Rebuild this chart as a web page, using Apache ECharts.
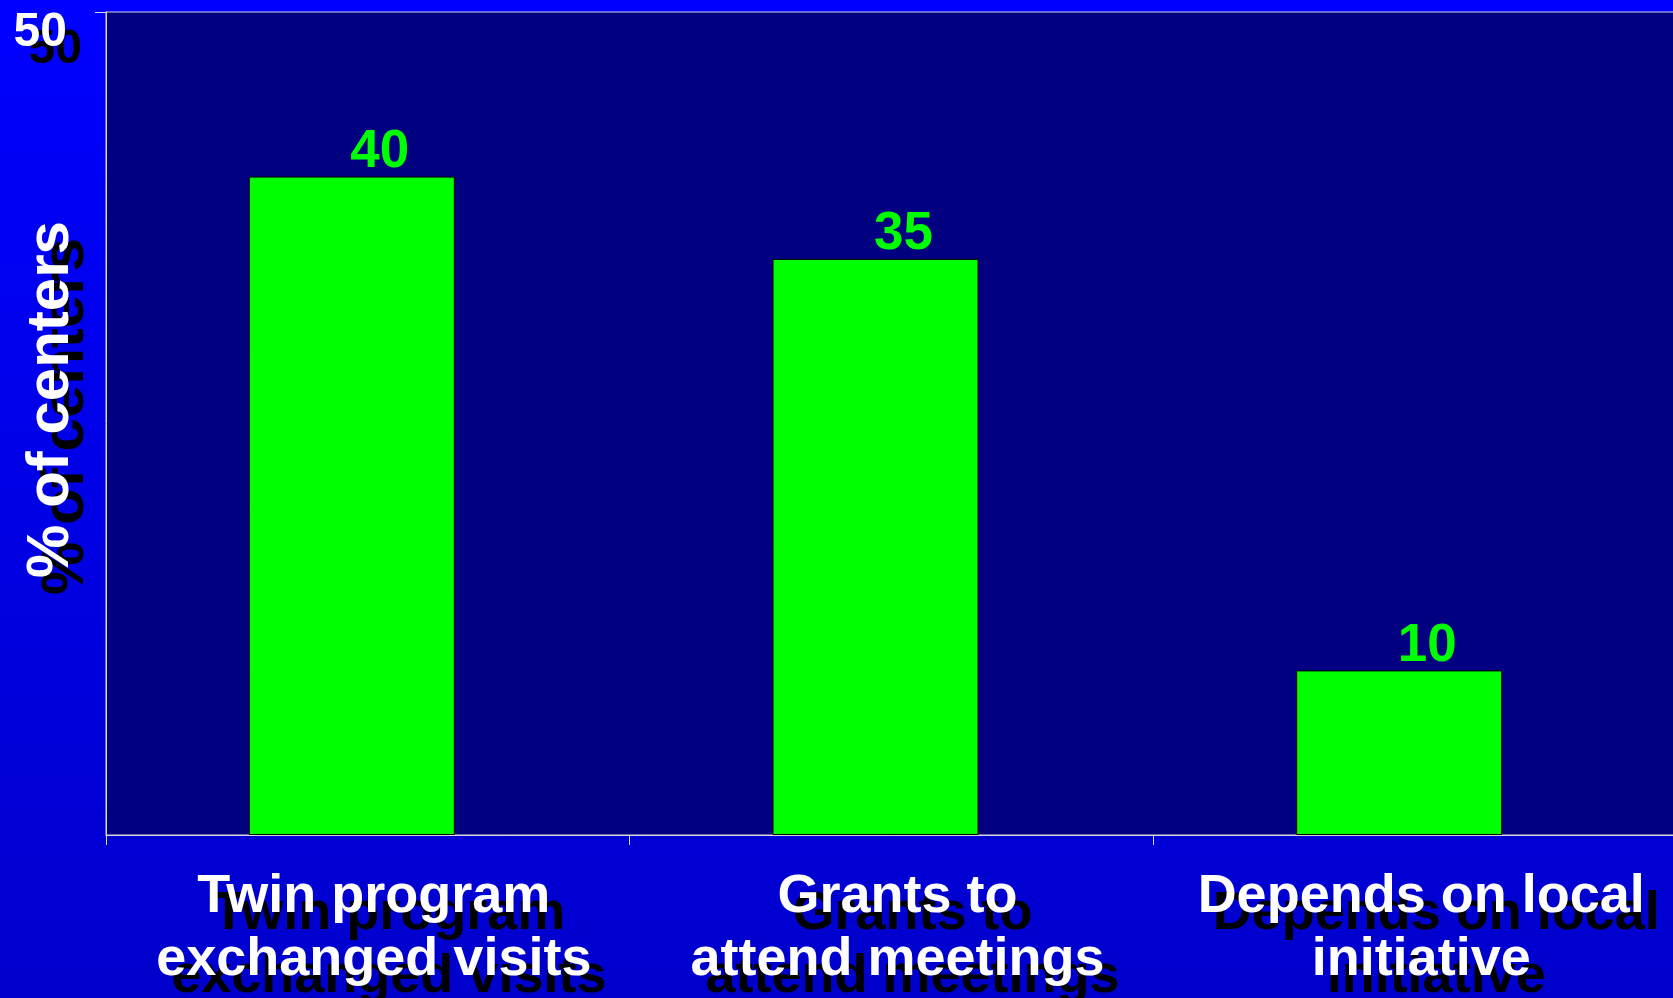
<!DOCTYPE html>
<html>
<head>
<meta charset="utf-8">
<script src="https://cdn.jsdelivr.net/npm/echarts@6/dist/echarts.min.js"></script>
<style>
html,body{margin:0;padding:0;width:1673px;height:998px;overflow:hidden;}
#c{width:1673px;height:998px;background:linear-gradient(to bottom,#0000ff 0%,#0000cc 100%);}
</style>
</head>
<body>
<div id="c"></div>
<script>
const categories = ['Twin program\nexchanged visits', 'Grants to\nattend meetings', 'Depends on local\ninitiative'];
const values = [40, 35, 10];
const yTickValues = [50];
const yTitle = '% of centers';

const FONT = "'Liberation Sans', Arial, Helvetica, sans-serif";
const shadow = {textShadowColor: '#000', textShadowOffsetX: 15, textShadowOffsetY: 17, textShadowBlur: 0.01};

const chart = echarts.init(document.getElementById('c'), null, {renderer: 'canvas'});
chart.setOption({
  backgroundColor: 'transparent',
  animation: false,
  grid: {left: 106, top: 12, right: -4, bottom: 163, outerBoundsMode: 'none', containLabel: false, show: true, backgroundColor: '#000080', borderColor: '#d8d8d8', borderWidth: 1},
  xAxis: {
    type: 'category',
    data: categories,
    axisLine: {show: true, lineStyle: {color: '#d8d8d8', width: 1}},
    axisTick: {show: true, length: 10, lineStyle: {color: '#d8d8d8', width: 1}},
    axisLabel: Object.assign({color: '#fff', fontFamily: FONT, fontWeight: 'bold', fontSize: 54, lineHeight: 63, margin: 31, interval: 0, padding: [0, 0, 0, 12]}, shadow)
  },
  yAxis: {
    type: 'value',
    min: 0, max: 50, interval: 50,
    name: yTitle,
    nameLocation: 'middle',
    nameRotate: 90,
    nameGap: 25,
    nameMoveOverlap: false,
    nameTextStyle: Object.assign({color: '#fff', fontFamily: FONT, fontWeight: 'bold', fontSize: 60, padding: [0, 0, 0, 48]}, shadow),
    splitLine: {show: false},
    axisLine: {show: true, lineStyle: {color: '#d8d8d8', width: 1}},
    axisTick: {show: true, length: 11, customValues: yTickValues, lineStyle: {color: '#d8d8d8', width: 1}},
    axisLabel: Object.assign({color: '#fff', fontFamily: FONT, fontWeight: 'bold', fontSize: 48, lineHeight: 42, verticalAlign: 'top', margin: 39, customValues: yTickValues}, shadow)
  },
  series: [
    {
      type: 'bar',
      data: values,
      barWidth: 206,
      barGap: '0%',
      itemStyle: {color: '#00ff00', borderColor: '#000', borderWidth: 1},
      label: {show: true, position: 'top', distance: 0, offset: [28, 2], color: '#00ff00', fontFamily: FONT, fontWeight: 'bold', fontSize: 53}
    },
    {
      type: 'bar',
      data: values.map(() => null),
      barWidth: 32,
      silent: true,
      itemStyle: {color: 'transparent'}
    }
  ]
});
</script>
</body>
</html>
